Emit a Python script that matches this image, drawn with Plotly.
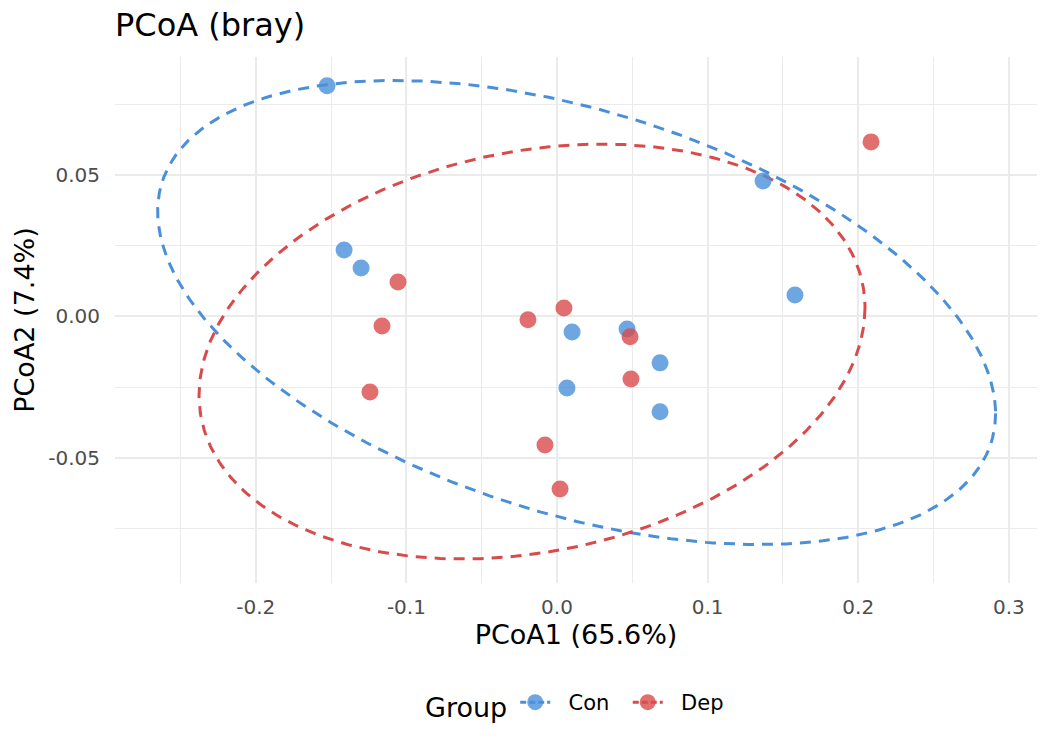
import numpy as np
import plotly.graph_objects as go

# ---- data ----
con_x = [-0.1527, -0.1414, -0.1301, 0.1368, 0.1580, 0.0100, 0.0465, 0.0684, 0.0066, 0.0684]
con_y = [0.0815, 0.0235, 0.0171, 0.0479, 0.0076, -0.0055, -0.0044, -0.0164, -0.0253, -0.0337]
dep_x = [0.2085, -0.1056, -0.1162, -0.1242, -0.0193, 0.0046, 0.0485, 0.0491, -0.0080, 0.0020]
dep_y = [0.0617, 0.0122, -0.0034, -0.0267, -0.0012, 0.0030, -0.0072, -0.0221, -0.0454, -0.0610]

groups = ["Con", "Dep"]
legend_labels = ["\u00a0\u00a0Con\u00a0\u00a0", "\u00a0\u00a0Dep"]
colors = ["#4A90D9", "#D94B4B"]

# ellipse parameters (center, half-extent in x, half-extent in y, correlation)
ell_cx = [0.0130, -0.0166]
ell_cy = [0.0014, -0.0124]
ell_w = [0.2782, 0.2211]
ell_h = [0.0820, 0.0733]
ell_r = [-0.435, 0.21]

x_tickvals = [-0.2, -0.1, 0.0, 0.1, 0.2, 0.3]
x_ticktext = ["-0.2", "-0.1", "0.0", "0.1", "0.2", "0.3"]
y_tickvals = [-0.05, 0.0, 0.05]
y_ticktext = ["-0.05", "0.00", "0.05"]

FONT = "DejaVu Sans"
fig = go.Figure()

t = np.linspace(0, 2 * np.pi, 361)
pts = [(con_x, con_y), (dep_x, dep_y)]
for i, g in enumerate(groups):
    ex = ell_cx[i] + ell_w[i] * np.cos(t)
    ey = ell_cy[i] + ell_h[i] * (ell_r[i] * np.cos(t) - np.sqrt(1 - ell_r[i] ** 2) * np.sin(t))
    fig.add_trace(go.Scatter(x=ex, y=ey, mode="lines", showlegend=False, hoverinfo="skip",
                             line=dict(color=colors[i], width=3, dash="11px,8px")))

for i, g in enumerate(groups):
    fig.add_trace(go.Scatter(x=pts[i][0], y=pts[i][1], mode="markers", name=g, showlegend=False,
                             marker=dict(color=colors[i], size=17, opacity=0.8, line=dict(width=0))))

for i, g in enumerate(groups):
    fig.add_trace(go.Scatter(x=[None], y=[None], mode="lines+markers", name=legend_labels[i], showlegend=True,
                             line=dict(color=colors[i], width=3, dash="6px,3px"),
                             marker=dict(color=colors[i], size=17, opacity=0.8)))

grid = "#EBEBEB"
fig.update_layout(
    width=1050, height=750,
    margin=dict(l=115, r=13, t=57, b=167),
    paper_bgcolor="white", plot_bgcolor="white",
    font=dict(family=FONT, color="black"),
    title=dict(text="PCoA (bray)", x=0, xref="paper", xanchor="left",
               y=1 - 25 / 750, yref="container", yanchor="middle",
               font=dict(size=32, family=FONT, color="black")),
    xaxis=dict(range=[-0.2935, 0.3187], tickvals=x_tickvals, ticktext=x_ticktext,
               showgrid=True, gridcolor=grid, gridwidth=2, zeroline=False, showline=False,
               ticks="outside", ticklen=6, tickcolor="rgba(0,0,0,0)",
               tickfont=dict(size=20, color="#4D4D4D", family=FONT),
               minor=dict(dtick=0.05, tick0=0, showgrid=True, gridcolor=grid, gridwidth=1.2),
               title=dict(text="PCoA1 (65.6%)", font=dict(size=27, color="black", family=FONT), standoff=3)),
    yaxis=dict(range=[-0.0942, 0.0917], tickvals=y_tickvals, ticktext=y_ticktext,
               showgrid=True, gridcolor=grid, gridwidth=2, zeroline=False, showline=False,
               ticks="outside", ticklen=10, tickcolor="rgba(0,0,0,0)",
               tickfont=dict(size=20, color="#4D4D4D", family=FONT),
               minor=dict(dtick=0.025, tick0=0, showgrid=True, gridcolor=grid, gridwidth=1.2),
               title=dict(text="PCoA2 (7.4%)", font=dict(size=27, color="black", family=FONT), standoff=5)),
    legend=dict(orientation="h", x=0.5, xanchor="center", y=-0.232, yanchor="middle",
                title=dict(text="Group", font=dict(size=27, family=FONT, color="black")),
                font=dict(size=21, family=FONT, color="black"), itemwidth=30,
                tracegroupgap=0),
)

fig.write_html("out.html")
